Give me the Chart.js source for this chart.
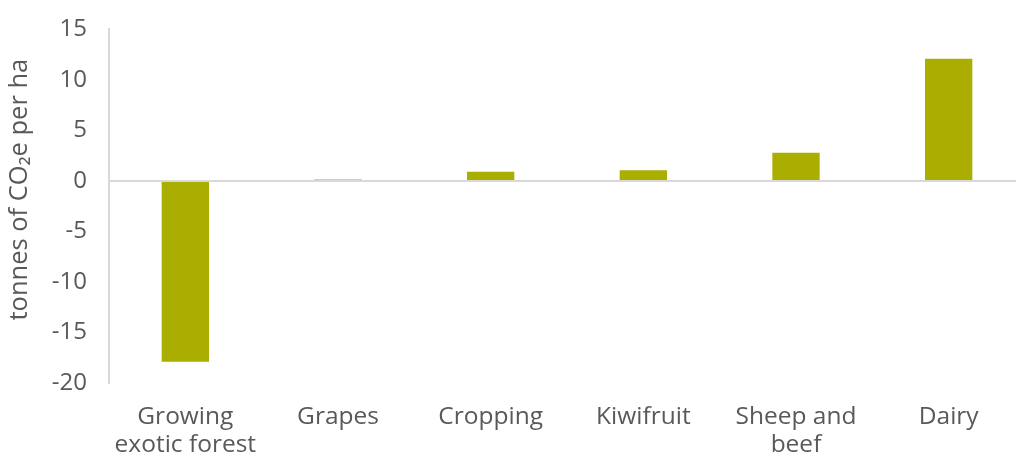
<!DOCTYPE html>
<html>
<head>
<meta charset="utf-8">
<script src="https://cdn.jsdelivr.net/npm/chart.js@4"></script>
<style>
  html, body { margin: 0; padding: 0; background: #ffffff; }
  #wrap { width: 1016px; height: 457px; overflow: hidden; position: relative; }
  #c { position: absolute; left: 0; top: -7px; }
</style>
</head>
<body>
<div id="wrap"><canvas id="c" width="1025" height="464"></canvas></div>
<script>
const categories = [["Growing", "exotic forest"], "Grapes", "Cropping", "Kiwifruit", ["Sheep and", "beef"], "Dairy"];
const values = [-17.9, 0.15, 0.9, 1.05, 2.8, 12.1];
const yMin = -20, yMax = 15, yStep = 5;
const yTitle = "tonnes of CO\u2082e per ha";

const textColor = '#595959';
const lineColor = '#d9d9d9';
const barColor = '#a9ae00';
const fontFamily = "'Open Sans', Lato, sans-serif";

new Chart(document.getElementById('c'), {
  type: 'bar',
  data: {
    labels: categories,
    datasets: [{
      data: values,
      backgroundColor: barColor,
      borderWidth: 0,
      categoryPercentage: 1.0,
      barPercentage: 0.31
    }]
  },
  options: {
    responsive: false,
    animation: false,
    devicePixelRatio: 1,
    layout: { padding: { top: 19, right: 0, left: 0, bottom: 0 } },
    plugins: { legend: { display: false }, tooltip: { enabled: false } },
    scales: {
      x: {
        grid: { display: false, drawTicks: false },
        border: { display: false },
        ticks: {
          color: textColor,
          font: { family: fontFamily, size: 24.5, lineHeight: 1.15 },
          padding: 20,
          maxRotation: 0,
          autoSkip: false
        },
        afterFit: (s) => { s.height = 74; }
      },
      y: {
        min: yMin, max: yMax,
        grid: {
          drawTicks: false,
          color: (ctx) => (ctx.tick && ctx.tick.value === 0) ? lineColor : 'rgba(0,0,0,0)',
          lineWidth: 2
        },
        border: { display: true, color: lineColor, width: 2 },
        ticks: {
          stepSize: yStep,
          color: textColor,
          font: { family: fontFamily, size: 24 },
          padding: 22
        },
        title: {
          display: true,
          text: "     " + yTitle,
          color: textColor,
          font: { family: fontFamily, size: 25.5 },
          padding: { top: 4, bottom: 0 }
        },
        afterFit: (s) => { s.width = 109; }
      }
    }
  }
});
</script>
</body>
</html>
